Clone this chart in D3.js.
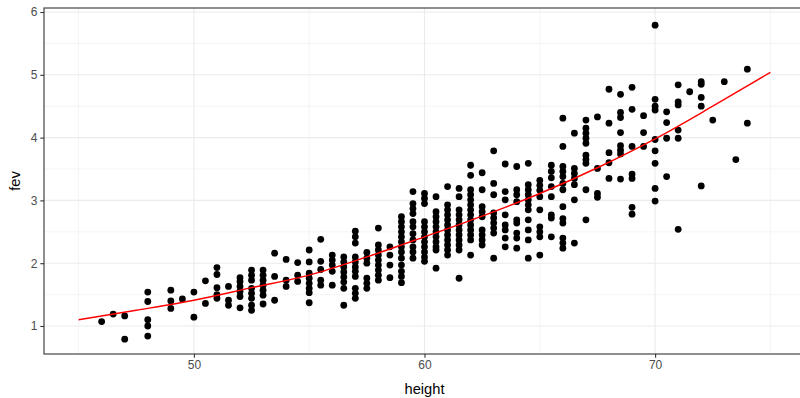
<!DOCTYPE html>
<html>
<head>
<meta charset="utf-8">
<script src="https://cdn.jsdelivr.net/npm/d3@7/dist/d3.min.js"></script>
<style>
  html, body { margin: 0; padding: 0; background: #ffffff; }
  svg { display: block; }
</style>
</head>
<body>
<svg id="chart" width="800" height="398"></svg>
<script>
// ---- data ----
const heights = [46, 46.5, 47, 48, 49, 49.5, 50, 50.5, 51, 51.5, 52, 52.5, 53, 53.5, 54, 54.5,
  55, 55.5, 56, 56.5, 57, 57.5, 58, 58.5, 59, 59.5, 60, 60.5, 61, 61.5, 62, 62.5, 63, 63.5,
  64, 64.5, 65, 65.5, 66, 66.5, 67, 67.5, 68, 68.5, 69, 69.5, 70, 70.5, 71, 71.5, 72, 72.5,
  73, 73.5, 74];
const fevByHeight = [
  [1.07],
  [1.19],
  [1.16, 0.79],
  [1.54, 1.39, 1.10, 1.00, 0.84],
  [1.57, 1.40, 1.28],
  [1.43],
  [1.54, 1.14],
  [1.72, 1.36],
  [1.93, 1.82, 1.61, 1.50, 1.44],
  [1.63, 1.41, 1.33],
  [1.77, 1.71, 1.63, 1.55, 1.47, 1.29],
  [1.89, 1.81, 1.73, 1.60, 1.52, 1.44, 1.33, 1.25],
  [1.89, 1.81, 1.73, 1.65, 1.57, 1.49, 1.35],
  [2.16, 1.79, 1.41],
  [2.06, 1.73, 1.63],
  [2.01, 1.81, 1.71],
  [2.21, 2.02, 1.84, 1.76, 1.68, 1.60, 1.53, 1.37],
  [2.38, 2.03, 1.90, 1.73, 1.65],
  [2.13, 2.05, 1.97, 1.87, 1.65],
  [2.10, 2.02, 1.94, 1.86, 1.78, 1.70, 1.60, 1.33],
  [2.51, 2.42, 2.32, 2.10, 2.02, 1.94, 1.87, 1.79, 1.60, 1.52, 1.44],
  [2.17, 2.08, 2.00, 1.76, 1.68, 1.60],
  [2.56, 2.29, 2.21, 2.13, 2.05, 1.97, 1.89, 1.81, 1.73],
  [2.26, 2.13, 1.97, 1.77],
  [2.74, 2.66, 2.58, 2.50, 2.42, 2.34, 2.26, 2.18, 2.08, 1.97, 1.87, 1.79, 1.69],
  [3.14, 2.95, 2.87, 2.79, 2.66, 2.58, 2.47, 2.37, 2.26, 2.18, 2.08],
  [3.11, 3.03, 2.95, 2.66, 2.58, 2.50, 2.42, 2.34, 2.26, 2.18, 2.10, 2.03],
  [3.06, 2.82, 2.74, 2.66, 2.58, 2.50, 2.42, 2.34, 2.26, 2.21, 1.92],
  [3.22, 2.93, 2.85, 2.77, 2.69, 2.61, 2.53, 2.45, 2.37, 2.29, 2.21, 2.13],
  [3.19, 3.06, 2.85, 2.77, 2.69, 2.61, 2.53, 2.45, 2.37, 2.29, 2.21, 1.76],
  [3.56, 3.40, 3.17, 3.09, 3.01, 2.93, 2.85, 2.77, 2.69, 2.61, 2.53, 2.45, 2.37, 2.13],
  [3.44, 3.17, 2.90, 2.82, 2.74, 2.53, 2.45, 2.37, 2.29],
  [3.79, 3.27, 3.09, 2.80, 2.72, 2.64, 2.56, 2.48, 2.08],
  [3.58, 3.14, 3.01, 2.77, 2.61, 2.53, 2.40, 2.26],
  [3.54, 3.17, 3.09, 2.98, 2.69, 2.64, 2.48, 2.40, 2.24],
  [3.59, 3.25, 3.17, 3.09, 3.01, 2.93, 2.85, 2.69, 2.53, 2.37, 2.08],
  [3.32, 3.24, 3.16, 3.06, 2.85, 2.58, 2.50, 2.42, 2.13],
  [3.56, 3.46, 3.36, 3.22, 3.06, 2.77, 2.72, 2.42],
  [4.31, 3.86, 3.54, 3.46, 3.38, 3.27, 3.17, 2.90, 2.71, 2.64, 2.40, 2.32, 2.24],
  [4.07, 3.51, 3.43, 3.35, 3.25, 3.01, 2.32],
  [4.28, 4.15, 4.07, 3.99, 3.91, 3.72, 3.65, 3.59, 3.17, 2.69],
  [4.33, 3.51, 3.11, 3.05],
  [4.77, 4.23, 3.76, 3.60, 3.35],
  [4.69, 4.40, 4.32, 4.08, 3.87, 3.80, 3.74, 3.34],
  [4.80, 4.45, 3.86, 3.42, 3.35, 2.89, 2.78],
  [4.35, 4.08, 3.86],
  [5.79, 4.61, 4.50, 4.44, 3.97, 3.79, 3.59, 3.19, 2.99],
  [4.41, 4.24, 3.99, 3.38],
  [4.84, 4.57, 4.52, 4.12, 3.99, 2.54],
  [4.73],
  [4.89, 4.85, 4.64, 4.50, 3.23],
  [4.28],
  [4.89],
  [3.65],
  [5.09, 4.23]
];
// fitted curve
const fitHeight = [45, 47.5, 50, 52.5, 55, 57.5, 60, 62.5, 65, 67.5, 70, 72.5, 75];
const fitFev    = [1.10, 1.25, 1.41, 1.61, 1.81, 2.10, 2.42, 2.75, 3.11, 3.52, 3.98, 4.50, 5.04];
const xTicks = [50, 60, 70];
const xMinor = [45, 55, 65, 75];
const yTicks = [1, 2, 3, 4, 5, 6];
const yMinor = [1.5, 2.5, 3.5, 4.5, 5.5];

// ---- layout ----
const svg = d3.select("#chart");
const pLeft = 44, pRight = 805, pTop = 8, pBottom = 354;
const x = d3.scaleLinear().domain([43.5, 76.5]).range([pLeft, pRight]);
const y = d3.scaleLinear().domain([0.554, 6.064]).range([pBottom, pTop]);
const font = "'Liberation Sans', Arial, Helvetica, sans-serif";

svg.append("rect").attr("x", pLeft).attr("y", pTop)
  .attr("width", pRight - pLeft).attr("height", pBottom - pTop).attr("fill", "#ffffff");

// grid
const grid = svg.append("g");
grid.selectAll(".ymin").data(yMinor).join("line")
  .attr("x1", pLeft).attr("x2", pRight).attr("y1", d => y(d)).attr("y2", d => y(d))
  .attr("stroke", "#EBEBEB").attr("stroke-width", 0.55);
grid.selectAll(".xmin").data(xMinor).join("line")
  .attr("y1", pTop).attr("y2", pBottom).attr("x1", d => x(d)).attr("x2", d => x(d))
  .attr("stroke", "#EBEBEB").attr("stroke-width", 0.55);
grid.selectAll(".ymaj").data(yTicks).join("line")
  .attr("x1", pLeft).attr("x2", pRight).attr("y1", d => y(d)).attr("y2", d => y(d))
  .attr("stroke", "#EBEBEB").attr("stroke-width", 1.1);
grid.selectAll(".xmaj").data(xTicks).join("line")
  .attr("y1", pTop).attr("y2", pBottom).attr("x1", d => x(d)).attr("x2", d => x(d))
  .attr("stroke", "#EBEBEB").attr("stroke-width", 1.1);

// points
const points = [];
heights.forEach((h, i) => fevByHeight[i].forEach(f => points.push({h, f})));
svg.append("g").selectAll("circle").data(points).join("circle")
  .attr("cx", d => x(d.h)).attr("cy", d => y(d.f)).attr("r", 3.4).attr("fill", "#000000");

// fitted curve
const fit = fitHeight.map((h, i) => [h, fitFev[i]]);
svg.append("path").datum(fit)
  .attr("d", d3.line().x(d => x(d[0])).y(d => y(d[1])).curve(d3.curveMonotoneX))
  .attr("fill", "none").attr("stroke", "#FF0000").attr("stroke-width", 1.4);

// panel border
svg.append("rect").attr("x", pLeft).attr("y", pTop)
  .attr("width", pRight - pLeft).attr("height", pBottom - pTop)
  .attr("fill", "none").attr("stroke", "#333333").attr("stroke-width", 1.1);

// axes
const xAxis = svg.append("g").attr("transform", `translate(0,${pBottom})`)
  .call(d3.axisBottom(x).tickValues(xTicks).tickSize(3.7).tickPadding(2.5).tickFormat(d3.format("d")));
const yAxis = svg.append("g").attr("transform", `translate(${pLeft},0)`)
  .call(d3.axisLeft(y).tickValues(yTicks).tickSize(3.7).tickPadding(3).tickFormat(d3.format("d")));
[xAxis, yAxis].forEach(a => {
  a.select(".domain").remove();
  a.selectAll(".tick line").attr("stroke", "#333333").attr("stroke-width", 1.1);
  a.selectAll(".tick text").attr("fill", "#4D4D4D").attr("font-size", "12px").attr("font-family", font);
});

// titles
svg.append("text").attr("x", x(60)).attr("y", 394).attr("text-anchor", "middle")
  .attr("font-family", font).attr("font-size", "14.7px").attr("fill", "#000000").text("height");
svg.append("text").attr("transform", `translate(20,${(pTop + pBottom) / 2}) rotate(-90)`)
  .attr("text-anchor", "middle").attr("font-family", font).attr("font-size", "14.7px")
  .attr("fill", "#000000").text("fev");
</script>
</body>
</html>
